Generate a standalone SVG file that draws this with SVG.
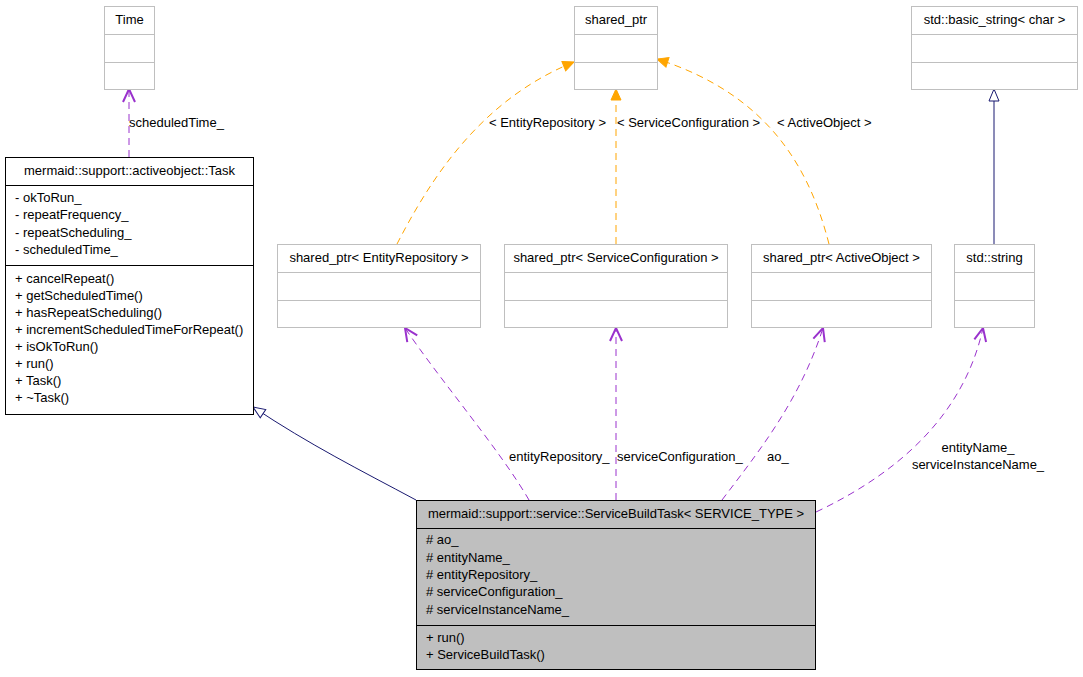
<svg xmlns="http://www.w3.org/2000/svg" width="1083" height="677" viewBox="0 0 1083 677">
<style>
text{font-family:"Liberation Sans",Arial,sans-serif;font-size:13px;fill:#000}
.c{text-anchor:middle}
.gb{fill:#fff;stroke:#bfbfbf;stroke-width:1}
.gl{stroke:#bfbfbf;stroke-width:1}
.bb{fill:#fff;stroke:#000;stroke-width:1}
.sb{fill:#bfbfbf;stroke:#000;stroke-width:1}
.bl{stroke:#000;stroke-width:1}
.use{fill:none;stroke:#9a32cd;stroke-width:1;stroke-dasharray:7,5}
.tmpl{fill:none;stroke:#ffa500;stroke-width:1;stroke-dasharray:7,5}
.inh{fill:none;stroke:#191970;stroke-width:1}
</style>
<defs>
<marker id="mOpen" viewBox="-15 -8 17 16" refX="0" refY="0" markerWidth="17" markerHeight="16" markerUnits="userSpaceOnUse" orient="auto">
<path d="M-13,-6 L0,0 L-13,6" fill="none" stroke="#9a32cd" stroke-width="2"/>
</marker>
<marker id="mFill" viewBox="-13 -7 15 14" refX="0" refY="0" markerWidth="15" markerHeight="14" markerUnits="userSpaceOnUse" orient="auto">
<polygon points="-11,-5 0,0 -11,5" fill="#ffa500" stroke="#ffa500" stroke-width="1"/>
</marker>
<marker id="mHollow" viewBox="-14 -7 16 14" refX="0" refY="0" markerWidth="16" markerHeight="14" markerUnits="userSpaceOnUse" orient="auto">
<polygon points="-12,-5 0,0 -12,5" fill="#fff" stroke="#191970" stroke-width="1"/>
</marker>
</defs>

<g id="connectors">
<path class="use" d="M129,157 L129,89" marker-end="url(#mOpen)"/>
<path class="tmpl" d="M397,244 C430,180 480,100 574,62" marker-end="url(#mFill)"/>
<path class="tmpl" d="M616,244 L616,89" marker-end="url(#mFill)"/>
<path class="tmpl" d="M829,244 C810,170 770,95 657,59" marker-end="url(#mFill)"/>
<path class="inh" d="M994,244 L994,89" marker-end="url(#mHollow)"/>
<path class="inh" d="M416,500 C360,470 310,445 253,407" marker-end="url(#mHollow)"/>
<path class="use" d="M529,500 C500,450 440,380 405,328" marker-end="url(#mOpen)"/>
<path class="use" d="M616,500 L616,328" marker-end="url(#mOpen)"/>
<path class="use" d="M722,500 C760,450 800,400 823,328" marker-end="url(#mOpen)"/>
<path class="use" d="M816,512 C905,470 965,410 983,328" marker-end="url(#mOpen)"/>
<text x="129" y="127">scheduledTime_</text>
<text x="489" y="127">&lt; EntityRepository &gt;</text>
<text x="617" y="127">&lt; ServiceConfiguration &gt;</text>
<text x="777" y="127">&lt; ActiveObject &gt;</text>
<text x="509" y="461">entityRepository_</text>
<text x="617" y="461">serviceConfiguration_</text>
<text x="767" y="461">ao_</text>
<text x="978" y="452" class="c">entityName_</text>
<text x="978" y="469" class="c">serviceInstanceName_</text>
</g>

<g id="Time">
<rect class="gb" x="104.5" y="6.5" width="50" height="83"/>
<line class="gl" x1="104.5" y1="34.5" x2="154.5" y2="34.5"/>
<line class="gl" x1="104.5" y1="62.5" x2="154.5" y2="62.5"/>
<text x="129.5" y="24" class="c">Time</text>
</g>

<g id="shared_ptr">
<rect class="gb" x="574.5" y="6.5" width="83" height="83"/>
<line class="gl" x1="574.5" y1="34.5" x2="657.5" y2="34.5"/>
<line class="gl" x1="574.5" y1="62.5" x2="657.5" y2="62.5"/>
<text x="616" y="24" class="c">shared_ptr</text>
</g>

<g id="basic_string">
<rect class="gb" x="911.5" y="6.5" width="166" height="83"/>
<line class="gl" x1="911.5" y1="34.5" x2="1077.5" y2="34.5"/>
<line class="gl" x1="911.5" y1="62.5" x2="1077.5" y2="62.5"/>
<text x="994.5" y="24" class="c">std::basic_string&lt; char &gt;</text>
</g>

<g id="Task">
<rect class="bb" x="5.5" y="157.5" width="248" height="257"/>
<line class="bl" x1="5.5" y1="185.5" x2="253.5" y2="185.5"/>
<line class="bl" x1="5.5" y1="265.5" x2="253.5" y2="265.5"/>
<text x="129.5" y="175" class="c">mermaid::support::activeobject::Task</text>
<text x="15" y="202">- okToRun_</text>
<text x="15" y="219">- repeatFrequency_</text>
<text x="15" y="237">- repeatScheduling_</text>
<text x="15" y="254">- scheduledTime_</text>
<text x="15" y="283">+ cancelRepeat()</text>
<text x="15" y="300">+ getScheduledTime()</text>
<text x="15" y="317">+ hasRepeatScheduling()</text>
<text x="15" y="334">+ incrementScheduledTimeForRepeat()</text>
<text x="15" y="351">+ isOkToRun()</text>
<text x="15" y="368">+ run()</text>
<text x="15" y="385">+ Task()</text>
<text x="15" y="402">+ ~Task()</text>
</g>

<g id="sp_EntityRepository">
<rect class="gb" x="277.5" y="244.5" width="203" height="83"/>
<line class="gl" x1="277.5" y1="272.5" x2="480.5" y2="272.5"/>
<line class="gl" x1="277.5" y1="300.5" x2="480.5" y2="300.5"/>
<text x="379" y="262" class="c">shared_ptr&lt; EntityRepository &gt;</text>
</g>

<g id="sp_ServiceConfiguration">
<rect class="gb" x="504.5" y="244.5" width="223" height="83"/>
<line class="gl" x1="504.5" y1="272.5" x2="727.5" y2="272.5"/>
<line class="gl" x1="504.5" y1="300.5" x2="727.5" y2="300.5"/>
<text x="616" y="262" class="c">shared_ptr&lt; ServiceConfiguration &gt;</text>
</g>

<g id="sp_ActiveObject">
<rect class="gb" x="751.5" y="244.5" width="180" height="83"/>
<line class="gl" x1="751.5" y1="272.5" x2="931.5" y2="272.5"/>
<line class="gl" x1="751.5" y1="300.5" x2="931.5" y2="300.5"/>
<text x="841.5" y="262" class="c">shared_ptr&lt; ActiveObject &gt;</text>
</g>

<g id="std_string">
<rect class="gb" x="954.5" y="244.5" width="80" height="83"/>
<line class="gl" x1="954.5" y1="272.5" x2="1034.5" y2="272.5"/>
<line class="gl" x1="954.5" y1="300.5" x2="1034.5" y2="300.5"/>
<text x="994.5" y="262" class="c">std::string</text>
</g>

<g id="ServiceBuildTask">
<rect class="sb" x="416.5" y="500.5" width="399" height="169"/>
<line class="bl" x1="416.5" y1="528.5" x2="815.5" y2="528.5"/>
<line class="bl" x1="416.5" y1="625.5" x2="815.5" y2="625.5"/>
<text x="616" y="518" class="c">mermaid::support::service::ServiceBuildTask&lt; SERVICE_TYPE &gt;</text>
<text x="426" y="544"># ao_</text>
<text x="426" y="561.5"># entityName_</text>
<text x="426" y="579"># entityRepository_</text>
<text x="426" y="596"># serviceConfiguration_</text>
<text x="426" y="613.5"># serviceInstanceName_</text>
<text x="426" y="642">+ run()</text>
<text x="426" y="659">+ ServiceBuildTask()</text>
</g>
</svg>
